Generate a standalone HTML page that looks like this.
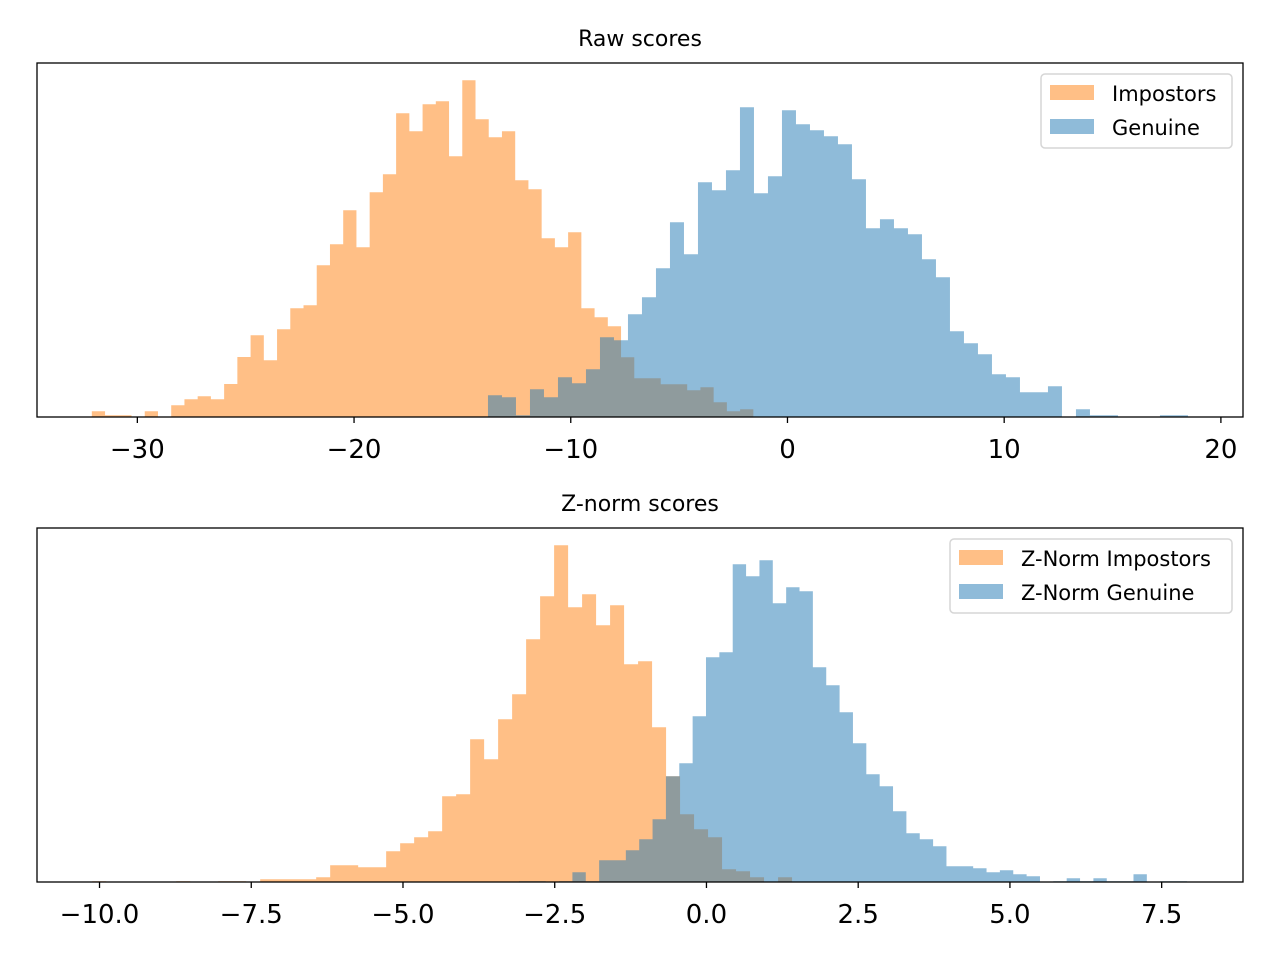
<!DOCTYPE html>
<html><head><meta charset="utf-8"><style>
html,body{margin:0;padding:0;background:#fff;}
svg text{font-family:"DejaVu Sans","Liberation Sans",sans-serif;fill:#000;}
</style></head><body>
<svg id="chart" width="1280" height="960" xmlns="http://www.w3.org/2000/svg">
<rect width="1280" height="960" fill="#fff"/>
</svg>
<script>
// ---- Raw scores data ----
const rawImpStart = -32.1, rawImpWidth = 0.6105;
const rawImpCounts = [5.7,1.7,1.7,0,5.7,0,11.7,17.7,20.7,17.7,33,60,81.7,56.7,87.7,108.7,111.7,151.7,172.7,206.7,169.7,224.7,242.7,303.7,285.7,312.7,315.7,260.7,336.7,297.7,279.7,285.7,236.7,227.7,178.7,169.7,184.7,108.7,99.7,90.7,59.7,38.7,38.7,32.7,32.7,26.7,29.7,14.7,5.7,7.7];
const rawGenStart = -13.82, rawGenWidth = 0.646;
const rawGenCounts = [21.7,19.7,1.7,27.7,19.7,39.7,33.7,47.7,79.7,76.7,102.7,119.7,148.7,194.7,162.7,234.7,226.7,246.7,309.7,223.7,240.7,306.7,292.7,286.7,280.7,272.7,237.7,188.7,197.7,188.7,182.7,157.7,139.7,85.7,73.7,62.7,42.7,39.7,24.7,24.7,30.7,0,7.7,1.7,1.7,0,0,0,1.7,1.7];
const rawTicks = [-30,-20,-10,0,10,20];
const rawTickLabels = ["\u221230","\u221220","\u221210","0","10","20"];
// ---- Z-norm data ----
const zImpStart = -10.12, zImpWidth = 0.2306;
const zImpCounts = [0.7,0,0,0,0,0,0.7,0,0,0.7,0.7,0,2.7,2.7,2.7,2.7,4.7,16.7,16.7,14.7,14.7,30.7,38.7,44.7,50.7,85.7,87.7,142.7,122.7,162.7,187.7,242.7,285.7,336.7,274.7,287.7,256.7,276.7,217.7,220.7,154.7,105.7,67.7,52.7,44.7,12.7,10.7,4.7,0,4.7];
const zGenStart = -3.089, zGenWidth = 0.2201;
const zGenCounts = [0.7,0.7,0,0.7,9.7,0.7,21.7,21.7,31.7,42.7,62.7,105.7,118.7,165.7,224.7,229.7,317.7,305.7,321.7,278.7,294.7,290.7,214.7,196.7,169.7,138.7,107.7,95.7,70.7,48.7,42.7,35.7,15.7,15.7,13.7,9.7,11.7,7.7,5.7,0,0.7,3.7,0.7,3.7,0.7,0.7,7.7,0,0.7,0.7];
const zTicks = [-10,-7.5,-5,-2.5,0,2.5,5,7.5];
const zTickLabels = ["\u221210.0","\u22127.5","\u22125.0","\u22122.5","0.0","2.5","5.0","7.5"];

const NS = "http://www.w3.org/2000/svg";
const svg = document.getElementById('chart');
function mk(tag, attrs, parent){const e=document.createElementNS(NS,tag);for(const k in attrs)e.setAttribute(k,attrs[k]);(parent||svg).appendChild(e);return e;}

function panel(opt){
  const {left,right,top,bottom,xmin,xmax,ymax,name}=opt;
  const g=mk('g',{});
  
  
  const xs=v=>left+(v-xmin)/(xmax-xmin)*(right-left);
  const ys=v=>bottom-v/ymax*(bottom-top);
  function series(start,width,counts,color,sname){
    // single step outline path so adjacent bars don't overlap
    let d='M'+xs(start)+','+bottom;
    counts.forEach((c,i)=>{
      const x0=xs(start+i*width), x1=xs(start+(i+1)*width);
      d+=' L'+x0+','+ys(c)+' L'+x1+','+ys(c);
    });
    d+=' L'+xs(start+counts.length*width)+','+bottom+' Z';
    const p=mk('path',{d:d,fill:color,'fill-opacity':0.5},g);
    
    
  }
  series(opt.impStart,opt.impWidth,opt.impCounts,'#ff7f0e',name+'-impostors-bars');
  series(opt.genStart,opt.genWidth,opt.genCounts,'#1f77b4',name+'-genuine-bars');
  const frame=mk('rect',{x:left,y:top,width:right-left,height:bottom-top,fill:'none',stroke:'#000','stroke-width':1.3},g);
  
  
  opt.ticks.forEach((t,i)=>{
    const x=xs(t);
    const tk=mk('line',{x1:x,x2:x,y1:bottom,y2:bottom+6,stroke:'#000','stroke-width':1.3},g);
    
    
    const tl=mk('text',{x:x,y:bottom+41,'text-anchor':'middle','font-size':'26px'},g);
    tl.textContent=opt.tickLabels[i];
    
    
  });
  const title=mk('text',{x:640,y:top-17,'text-anchor':'middle','font-size':'22px'},g);
  title.textContent=opt.title;
  
  
  // legend
  const L=opt.legend;
  const lg=mk('g',{},g);
  
  
  mk('rect',{x:L.x,y:top+11,width:1232-L.x,height:74,rx:4,fill:'#fff','fill-opacity':0.8,stroke:'#d6d6d6','stroke-width':1.5},lg);
  [[opt.impLabel,'#ff7f0e',0],[opt.genLabel,'#1f77b4',1]].forEach(([lab,col,k])=>{
    const py=top+22+k*34;
    const p=mk('rect',{x:L.x+9,y:py,width:44,height:15,fill:col,'fill-opacity':0.5},lg);
    
    
    const t=mk('text',{x:L.x+71,y:py+16,'font-size':'21px'},lg);
    t.textContent=lab;
    
    
  });
}
panel({name:'raw-scores',left:37,right:1243,top:63,bottom:417,xmin:-34.63,xmax:21.02,ymax:354,
  impStart:rawImpStart,impWidth:rawImpWidth,impCounts:rawImpCounts,
  genStart:rawGenStart,genWidth:rawGenWidth,genCounts:rawGenCounts,
  ticks:rawTicks,tickLabels:rawTickLabels,title:'Raw scores',
  impLabel:'Impostors',genLabel:'Genuine',legend:{x:1041}});
panel({name:'znorm-scores',left:37,right:1243,top:528,bottom:882,xmin:-11.03,xmax:8.84,ymax:354,
  impStart:zImpStart,impWidth:zImpWidth,impCounts:zImpCounts,
  genStart:zGenStart,genWidth:zGenWidth,genCounts:zGenCounts,
  ticks:zTicks,tickLabels:zTickLabels,title:'Z-norm scores',
  impLabel:'Z-Norm Impostors',genLabel:'Z-Norm Genuine',legend:{x:950}});
</script>
</body></html>
